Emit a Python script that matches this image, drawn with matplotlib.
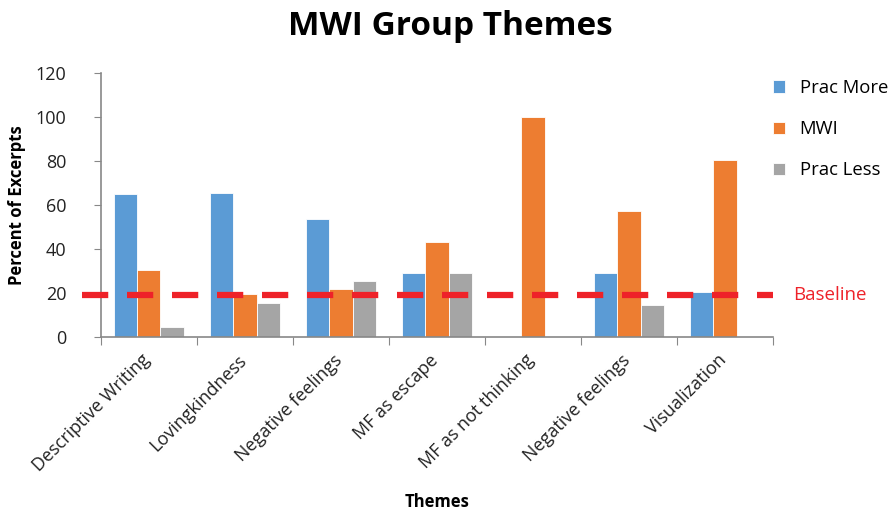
import numpy as np
import matplotlib.pyplot as plt
import matplotlib.transforms as mtransforms

plt.rcParams['font.family'] = ['Open Sans', 'DejaVu Sans']

# data
themes = ["Descriptive Writing", "Lovingkindness", "Negative feelings", "MF as escape",
          "MF as not thinking", "Negative feelings", "Visualization"]
prac_more = [65.2, 65.6, 53.8, 28.9, 0, 28.9, 20.3]
mwi = [30.6, 19.4, 21.7, 43.1, 100, 57.3, 80.4]
prac_less = [4.4, 15.6, 25.4, 28.9, 0, 14.5, 0]
baseline = 19.0

series = [("Prac More", prac_more, "#5B9BD5"),
          ("MWI", mwi, "#ED7D31"),
          ("Prac Less", prac_less, "#A5A5A5")]

fig = plt.figure(figsize=(8.92, 5.12), dpi=100)
ax = fig.add_axes([0.1132, 0.3418, 0.7534, 0.5156])

x = np.arange(len(themes))
w = 0.24
for i, (name, vals, col) in enumerate(series):
    ax.bar(x + (i - 1) * w, vals, w, color=col, edgecolor="white", linewidth=0.6, label=name)

# baseline reference line, runs a little past the y axis
ax.plot([-0.7, 6.5], [baseline, baseline], color="#EE2229", lw=4.5,
        dashes=(4.2, 3.0), clip_on=False, zorder=5)
ax.text(1.03, baseline, "Baseline", color="#EE2229", fontsize=13.5,
        transform=ax.get_yaxis_transform(), va="center", ha="left")

ax.set_xlim(-0.5, 6.5)
ax.set_ylim(0, 120)
ax.set_yticks(np.arange(0, 121, 20))
ax.tick_params(axis="y", labelsize=13, length=5, color="#888888", labelcolor="#222222", pad=20)

# category boundaries get the x ticks, labels sit at the centres
ax.set_xticks(np.arange(-0.5, 7, 1))
ax.set_xticklabels([])
ax.tick_params(axis="x", length=6, color="#888888")
offset = mtransforms.ScaledTranslation(-0.08, -0.14, fig.dpi_scale_trans)
for xi, lab in zip(x, themes):
    ax.text(xi, 0, lab, rotation=45, ha="right", va="top", rotation_mode="anchor",
            fontsize=13, color="#222222",
            transform=ax.get_xaxis_transform() + offset)

for s in ["top", "right"]:
    ax.spines[s].set_visible(False)
for s in ["left", "bottom"]:
    ax.spines[s].set_color("#888888")
    ax.spines[s].set_linewidth(1.2)

ax.set_ylabel("Percent of Excerpts", fontsize=12, fontweight="bold")
ax.yaxis.set_label_coords(-0.112, 0.5)
fig.text(0.49, 0.01, "Themes", fontsize=12, fontweight="bold", ha="center")
fig.text(0.505, 0.948, "MWI Group Themes", fontsize=24, fontweight="bold",
         ha="center", va="center")

ax.legend(loc="upper left", bbox_to_anchor=(0.975, 1.04), frameon=False, fontsize=13.3,
          handlelength=0.65, handleheight=0.65, labelspacing=1.25, handletextpad=0.8)

fig.savefig("out.png", dpi=100)
